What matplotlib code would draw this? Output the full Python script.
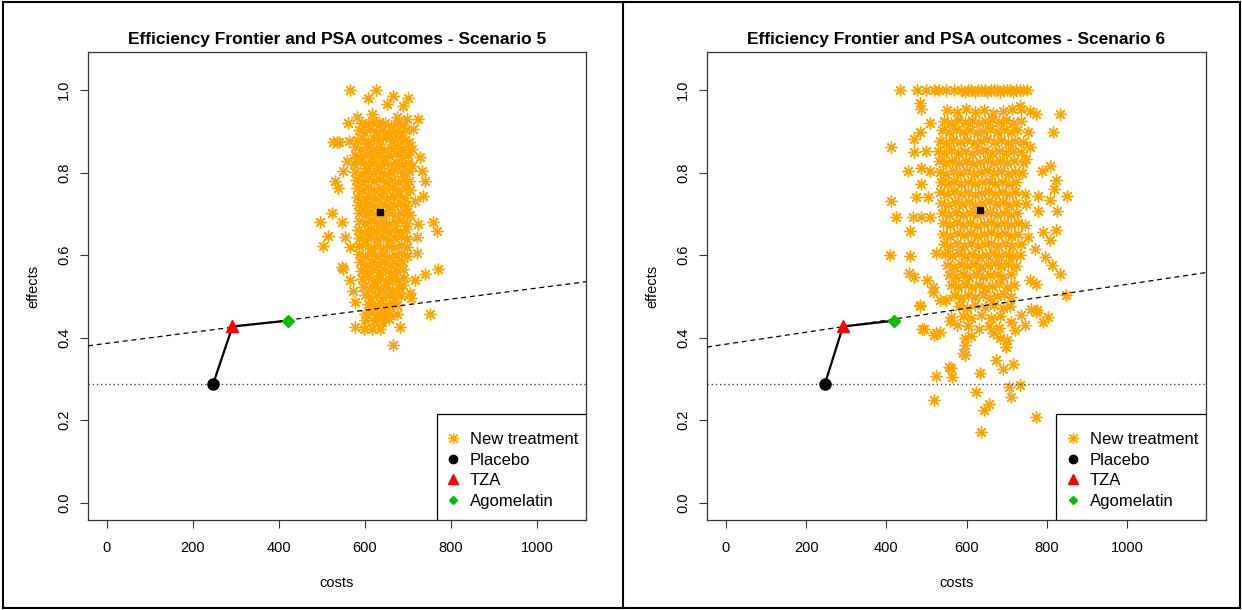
# Efficiency frontier + PSA clouds, scenarios 5 and 6 (R base-graphics look)
import matplotlib
matplotlib.use("Agg")
import matplotlib.pyplot as plt
from matplotlib.lines import Line2D
from matplotlib.patches import Rectangle

plt.rcParams['font.family'] = ['Liberation Sans', 'DejaVu Sans']

# --- data ---
strategies = ['Placebo', 'TZA', 'Agomelatin']
strategy_costs = [247, 292, 420]
strategy_effects = [0.288, 0.427, 0.441]
strategy_colors = ['black', '#FF0000', '#00C000']
strategy_markers = ['o', '^', 'D']

titles = ['Efficiency Frontier and PSA outcomes - Scenario 5',
          'Efficiency Frontier and PSA outcomes - Scenario 6']
psa_mean = [(636, 0.704), (634, 0.709)]
# dashed reference line (intercept, slope) per scenario
wtp_lines = [(0.386, 0.000134), (0.384, 0.000145)]
x_limits = [(-44, 1114), (-47, 1197)]
x_ticks = [0, 200, 400, 600, 800, 1000]
y_ticks = [0.0, 0.2, 0.4, 0.6, 0.8, 1.0]

# PSA outcomes (cost, effect), scenario 5
psa5 = [
    # outer points
    (565, 1.0), (626, 1.0), (607, .98), (665, .985), (700, .98), (651, .966), (688, .961),
    (723, .93), (535, .874), (563, .877), (526, .873), (540, .873), (560, .919), (581, .935),
    (616, .942), (633, .923), (674, .935), (698, .93), (712, .906), (709, .857), (728, .838),
    (733, .804), (740, .78), (735, .744), (716, .732), (723, .676), (721, .643), (495, .679),
    (523, .703), (514, .647), (502, .623), (758, .679), (767, .659), (770, .567), (740, .555),
    (751, .458), (665, .381), (577, .425), (635, .422), (681, .425), (547, .57), (721, .606),
    (547, .679), (553, .643), (565, .619), (549, .567), (565, .539), (572, .514), (577, .486),
    (600, .458), (616, .474), (642, .45), (674, .458), (705, .507), (716, .539), (688, .527),
    (628, .442), (600, .442), (651, .466), (530, .78), (537, .763), (549, .804), (558, .829),
    (707, .497), (598, .42), (616, .42),
    # dense core
    (592, .921), (606, .917), (619, .924), (633, .915), (647, .92), (661, .913), (676, .922), (688, .916),
    (585, .902), (598, .897), (612, .905), (626, .898), (640, .903), (653, .895), (667, .901), (681, .897), (696, .904),
    (581, .879), (594, .884), (608, .876), (622, .882), (636, .878), (650, .885), (664, .877), (678, .883), (692, .879), (702, .874),
    (578, .861), (591, .856), (605, .863), (619, .857), (633, .862), (647, .855), (661, .86), (675, .864), (689, .857), (703, .861),
    (576, .842), (589, .837), (603, .844), (617, .838), (631, .843), (645, .836), (659, .841), (673, .845), (687, .838), (700, .843),
    (575, .821), (588, .826), (602, .818), (616, .824), (630, .817), (644, .823), (658, .819), (672, .825), (686, .818), (699, .822), (710, .816),
    (577, .802), (590, .797), (604, .804), (618, .798), (632, .803), (646, .796), (660, .801), (674, .805), (688, .798), (702, .803),
    (579, .783), (592, .777), (606, .784), (620, .779), (634, .785), (648, .778), (662, .782), (676, .776), (690, .784), (703, .779),
    (581, .762), (594, .758), (608, .764), (622, .757), (636, .763), (650, .759), (664, .765), (678, .758), (692, .762), (704, .757),
    (582, .741), (596, .737), (610, .744), (624, .738), (638, .743), (652, .736), (666, .742), (680, .745), (694, .738),
    (583, .722), (597, .717), (611, .724), (625, .718), (639, .723), (653, .716), (667, .721), (681, .725), (695, .718),
    (585, .702), (599, .697), (613, .704), (627, .698), (641, .697), (655, .703), (669, .696), (683, .701), (697, .705), (705, .698),
    (586, .682), (600, .677), (614, .684), (628, .678), (642, .683), (656, .676), (670, .681), (684, .685), (698, .678),
    (583, .661), (597, .657), (611, .664), (625, .658), (639, .663), (653, .656), (667, .662), (681, .657), (695, .663),
    (585, .642), (599, .637), (613, .644), (627, .638), (641, .643), (655, .636), (669, .641), (683, .645), (697, .638),
    (586, .621), (600, .626), (614, .618), (628, .624), (642, .617), (656, .623), (670, .619), (684, .625), (697, .62),
    (586, .602), (600, .597), (614, .604), (628, .598), (642, .603), (656, .596), (670, .601), (684, .605), (698, .598),
    (589, .582), (603, .577), (617, .584), (631, .578), (645, .583), (659, .576), (673, .581), (687, .585),
    (591, .562), (605, .557), (619, .564), (633, .558), (647, .563), (661, .556), (675, .561), (689, .565),
    (593, .541), (607, .546), (621, .538), (635, .544), (649, .537), (663, .543), (677, .539), (690, .545),
    (596, .522), (610, .517), (624, .524), (638, .518), (652, .523), (666, .516), (680, .521),
    (600, .502), (614, .497), (628, .504), (642, .498), (656, .503), (670, .496), (683, .501),
    (607, .482), (621, .477), (635, .484), (649, .478), (663, .483), (675, .479),
    (614, .462), (628, .457), (642, .464), (656, .458),
    (622, .441), (640, .437), (655, .444),
]

# PSA outcomes (cost, effect), scenario 6
psa6 = [
    # effects capped at 1
    (433, 1.0), (477, 1.0), (500, 1.0), (520, 1.0), (532, 1.0), (550, 1.0), (570, 1.0), (587, 1.0),
    (595, .995), (603, 1.0), (612, 1.0), (620, .995), (628, 1.0), (636, 1.0), (645, 1.0), (652, .995),
    (660, 1.0), (668, 1.0), (676, 1.0), (684, .995), (692, 1.0), (700, 1.0), (708, 1.0), (716, .995),
    (724, 1.0), (733, 1.0), (742, 1.0), (750, 1.0),
    # outer points, left side
    (483, .969), (487, .954), (508, .921), (470, .882), (483, .897), (470, .849), (499, .853),
    (453, .804), (487, .811), (508, .804), (487, .771), (412, .73), (474, .74), (503, .74),
    (424, .692), (466, .691), (487, .691), (508, .692), (458, .659), (408, .599), (458, .597),
    (524, .604), (412, .862), (456, .556), (470, .547), (501, .54), (516, .522), (516, .51),
    (483, .478), (495, .42), (533, .414), (520, .406), (556, .328), (523, .307), (564, .304),
    (518, .249), (533, .49), (550, .49), (562, .45), (485, .476), (490, .42), (525, .41),
    # outer points, right side
    (833, .942), (815, .897), (753, .897), (774, .941), (758, .949), (734, .961), (737, .954),
    (808, .816), (787, .804), (823, .782), (818, .76), (851, .742), (778, .744), (808, .734),
    (826, .706), (778, .706), (824, .661), (791, .655), (808, .637), (753, .643), (770, .615),
    (795, .595), (749, .833), (758, .861), (812, .575), (833, .555), (758, .539), (773, .531),
    (848, .502), (737, .454), (774, .462), (803, .45), (791, .438), (775, .466), (760, .47),
    (745, .43),
    # lower tail
    (712, .438), (720, .418), (666, .41), (683, .40), (595, .398), (591, .362), (698, .377),
    (674, .345), (691, .325), (716, .337), (634, .314), (562, .326), (624, .269), (706, .281),
    (734, .285), (712, .257), (656, .239), (643, .225), (774, .208), (637, .172), (595, .357),
    (595, .382), (560, .44), (575, .43), (610, .405), (700, .395),
    # core
    (552, .951), (575, .946), (598, .953), (621, .947), (644, .952), (667, .945), (690, .95), (713, .955),
    (545, .926), (562, .921), (579, .928), (596, .922), (613, .927), (630, .92), (647, .926), (664, .929), (681, .922), (698, .927), (715, .921), (735, .925),
    (540, .902), (557, .897), (574, .904), (591, .898), (608, .903), (625, .896), (642, .901), (659, .905), (676, .898), (693, .903), (710, .897), (727, .902),
    (533, .877), (550, .872), (567, .879), (584, .873), (601, .878), (618, .871), (635, .876), (652, .88), (669, .873), (686, .878), (703, .872), (720, .877), (740, .874),
    (528, .852), (545, .847), (562, .854), (579, .848), (596, .853), (613, .846), (630, .851), (647, .855), (664, .848), (681, .853), (698, .847), (715, .852), (735, .849),
    (531, .827), (548, .822), (565, .829), (582, .823), (599, .828), (616, .821), (633, .826), (650, .83), (667, .823), (684, .828), (701, .822), (718, .827), (742, .824),
    (533, .802), (550, .797), (567, .804), (584, .798), (601, .803), (618, .796), (635, .801), (652, .805), (669, .798), (686, .803), (703, .797), (720, .802), (738, .799),
    (536, .777), (553, .772), (570, .779), (587, .773), (604, .778), (621, .771), (638, .776), (655, .78), (672, .773), (689, .778), (706, .772), (723, .777),
    (535, .752), (552, .747), (569, .754), (586, .748), (603, .753), (620, .746), (637, .751), (654, .755), (671, .748), (688, .753), (705, .747), (722, .752), (745, .749),
    (537, .727), (554, .722), (571, .729), (588, .723), (605, .728), (622, .721), (639, .726), (656, .73), (673, .723), (690, .728), (707, .722), (724, .727), (748, .724),
    (540, .702), (557, .697), (574, .704), (591, .698), (608, .703), (625, .696), (642, .701), (659, .705), (676, .698), (693, .703), (710, .697), (727, .702),
    (541, .677), (558, .672), (575, .679), (592, .673), (609, .678), (626, .671), (643, .676), (660, .68), (677, .673), (694, .678), (711, .672), (728, .677), (746, .674),
    (542, .652), (559, .647), (576, .654), (593, .648), (610, .653), (627, .646), (644, .651), (661, .655), (678, .648), (695, .653), (712, .647), (729, .652),
    (543, .627), (560, .622), (577, .629), (594, .623), (611, .628), (628, .621), (645, .626), (662, .63), (679, .623), (696, .628), (713, .622), (735, .626),
    (546, .602), (563, .597), (580, .604), (597, .598), (614, .603), (631, .596), (648, .601), (665, .605), (682, .598), (699, .603), (716, .597), (733, .601),
    (551, .577), (568, .572), (585, .579), (602, .573), (619, .578), (636, .571), (653, .576), (670, .58), (687, .573), (704, .578), (724, .574),
    (556, .552), (573, .547), (590, .554), (607, .548), (624, .553), (641, .546), (658, .551), (675, .555), (692, .548), (712, .553),
    (562, .527), (579, .522), (596, .529), (613, .523), (630, .528), (647, .521), (664, .526), (681, .53), (700, .523), (718, .527),
    (568, .502), (586, .497), (604, .504), (622, .498), (640, .503), (658, .496), (676, .501), (694, .505), (712, .498),
    (580, .477), (600, .472), (620, .479), (645, .473), (668, .478), (690, .471), (708, .476),
    (590, .452), (612, .447), (635, .454), (660, .448), (684, .453),
    (604, .427), (630, .422), (656, .429), (680, .423),
]

ORANGE = '#FFA500'
ASTERISK = (8, 2, 0)


def draw_panel(ax, psa, mean_pt, wtp, xlim, title):
    costs = [p[0] for p in psa]
    effects = [p[1] for p in psa]
    ax.scatter(costs, effects, marker=ASTERISK, s=62, c=ORANGE, linewidths=1.0, zorder=2)

    # reference lines
    ax.axline((0, wtp[0]), slope=wtp[1], ls=(0, (4, 3)), color='black', lw=0.9, zorder=3)
    ax.axhline(strategy_effects[0], ls=(0, (1, 2)), color='#444444', lw=1.0, zorder=3)

    # frontier
    ax.plot(strategy_costs, strategy_effects, color='black', lw=1.6, zorder=4)
    sizes = [8, 8.5, 6]
    for c, e, col, m, ms in zip(strategy_costs, strategy_effects, strategy_colors,
                                strategy_markers, sizes):
        ax.plot([c], [e], ls='none', marker=m, color=col, markersize=ms, zorder=5)
    ax.plot([mean_pt[0]], [mean_pt[1]], ls='none', marker='s', color='black',
            markersize=5, zorder=5)

    ax.set_xlim(*xlim)
    ax.set_ylim(-0.042, 1.092)
    ax.set_xticks(x_ticks)
    ax.set_yticks(y_ticks)
    ax.set_yticklabels(['%.1f' % v for v in y_ticks], rotation=90, va='center')
    ax.tick_params(length=6, width=0.8, labelsize=10.5, color='#333333')
    ax.tick_params(axis='x', pad=9)
    ax.tick_params(axis='y', pad=6)
    for sp in ax.spines.values():
        sp.set_linewidth(0.9)
        sp.set_color('#333333')
    ax.set_xlabel('costs', fontsize=10.5, labelpad=15)
    ax.set_ylabel('effects', fontsize=10.5, labelpad=12)
    ax.set_title(title, fontsize=12.5, fontweight='bold', pad=6)

    # legend box (R style: square, flush with the bottom-right corner)
    ax.add_patch(Rectangle((0.70, 0.0), 0.30, 0.2265, transform=ax.transAxes,
                           facecolor='white', edgecolor='black', lw=0.9, zorder=6))
    handles = [Line2D([], [], ls='none', marker=ASTERISK, color=ORANGE, markersize=8,
                      markeredgewidth=0.9, label='New treatment')]
    for name, col, m, ms in zip(strategies, strategy_colors, strategy_markers, [6, 6.5, 4.5]):
        handles.append(Line2D([], [], ls='none', marker=m, color=col, markersize=ms, label=name))
    leg = ax.legend(handles=handles, loc='center', bbox_to_anchor=(0.851, 0.106),
                    frameon=False, fontsize=12, handlelength=1.0, handletextpad=0.5,
                    labelspacing=0.33, borderpad=0.0)
    leg.set_zorder(7)


fig = plt.figure(figsize=(12.42, 6.10), dpi=100)
ax1 = fig.add_axes([88 / 1242, 90 / 610, 498 / 1242, 468 / 610])
ax2 = fig.add_axes([707 / 1242, 90 / 610, 499 / 1242, 468 / 610])

for ax, psa, mp, wtp, xl, t in zip([ax1, ax2], [psa5, psa6], psa_mean, wtp_lines, x_limits, titles):
    draw_panel(ax, psa, mp, wtp, xl, t)

# outer frames of the two pasted plots
fig.add_artist(Rectangle((3 / 1242, 2 / 610), 1237 / 1242, 606 / 610, fill=False,
                         edgecolor='black', lw=1.5, transform=fig.transFigure))
fig.add_artist(Line2D([623 / 1242, 623 / 1242], [2 / 610, 608 / 610], color='black',
                      lw=1.5, transform=fig.transFigure))

fig.savefig('out.png', dpi=100)
